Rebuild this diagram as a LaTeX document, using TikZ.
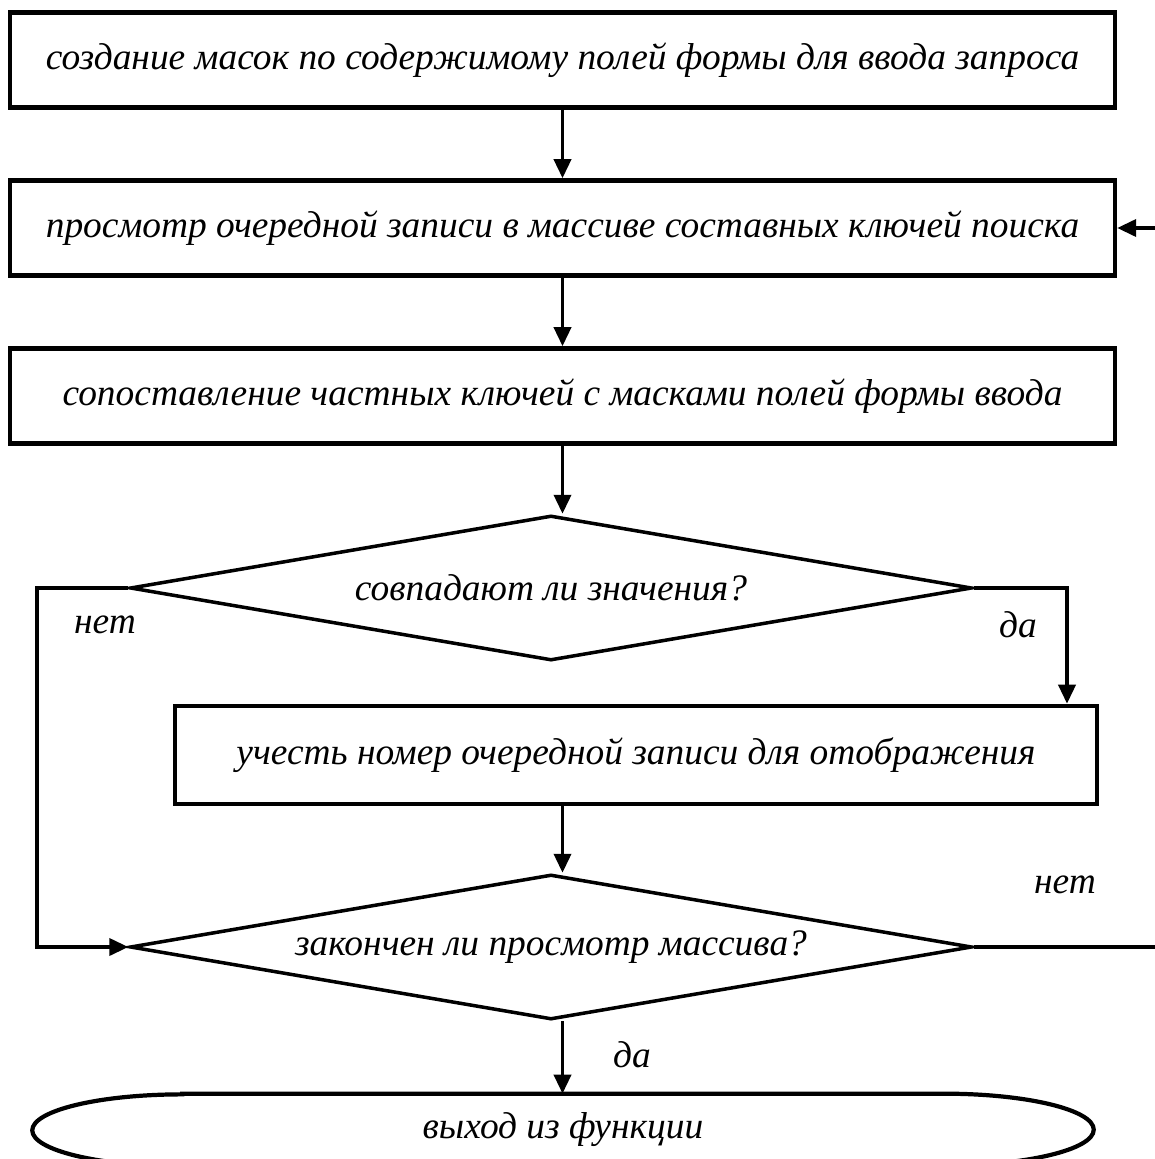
\documentclass[tikz,border=0pt]{standalone}
\usepackage{fontspec}
\setmainfont{Liberation Serif}
\usepackage{tikz}
\usetikzlibrary{calc,arrows.meta,shapes.geometric,positioning}

\begin{document}
\begin{tikzpicture}[x=0.02cm,y=-0.02cm]

\tikzset{stepnode/.style={font=\itshape\fontsize{21.3}{25}\selectfont,draw,line width=2.6pt,minimum width=22.1cm,minimum height=1.9cm,inner sep=0pt},
choicenode/.style={font=\itshape\fontsize{21.3}{25}\selectfont,draw,shape=diamond,shape aspect=5.9,line width=2pt,minimum width=16.84cm,minimum height=2.9cm,inner sep=0pt},
answer/.style={font=\itshape\fontsize{21.3}{25}\selectfont},
flow/.style={line width=2.1pt,-{Triangle[length=3.8mm,width=3.4mm]}}}

\useasboundingbox (0,0) rectangle (1155,1159);

% steps
\node[stepnode] (b1) at (562.5,60) {создание масок по содержимому полей формы для ввода запроса};
\node[stepnode] (b2) at (562.5,228) {просмотр очередной записи в массиве составных ключей поиска};
\node[stepnode] (b3) at (562.5,396) {сопоставление частных ключей с масками полей формы ввода};

% choices
\node[choicenode] (d1) at (551,588) {совпадают ли значения?};
\node[stepnode,minimum width=18.44cm,minimum height=1.96cm] (b4) at (636,755) {учесть номер очередной записи для отображения};
\node[choicenode] (d2) at (551,947) {закончен ли просмотр массива?};

% exit
\node[answer,minimum width=21.22cm,minimum height=1.44cm] (exit) at (563,1130) {выход из функции};
\draw[line width=2.4pt] ([xshift=3cm]exit.north west) -- ([xshift=-3cm]exit.north east) arc[start angle=90,end angle=-90,x radius=3cm,y radius=0.72cm] -- ([xshift=3cm]exit.south west) arc[start angle=270,end angle=90,x radius=3cm,y radius=0.72cm] -- cycle;

% turning points
\coordinate (lleft) at (37,0); \coordinate (rdrop) at (1067,0); \coordinate (rback) at (1158,0);

% edges
\draw[flow] (b1) -- (b2); \draw[flow] (b2) -- (b3);
\draw[flow] (b3) -- (b3 |- d1.north);
\draw[flow] (d1.east) -| (rdrop |- b4.north);
\draw[flow] (d1.west) -- (lleft |- d1.west) -- (lleft |- d2.west) -- (d2.west);
\draw[flow] (b1 |- b4.south) -- (b1 |- d2.north);
\draw[flow] (d2.east) -- (rback |- d2.east) -- (rback |- b2.east) -- (b2.east);
\draw[flow] (b1 |- d2.south) -- (b1 |- exit.north);

% answers
\node[answer] (no1) at (105,625) {нет}; \node[answer] (yes1) at (1018,625) {да};
\node[answer] (no2) at (1065,885) {нет}; \node[answer] (yes2) at (632,1055) {да};

\end{tikzpicture}
\end{document}
